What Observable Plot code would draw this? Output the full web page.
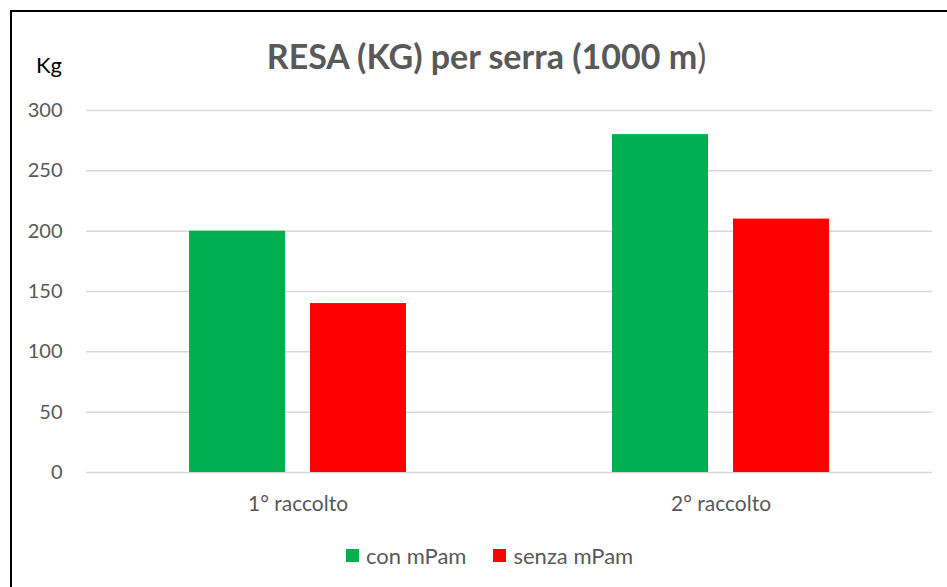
<!DOCTYPE html>
<html>
<head>
<meta charset="utf-8">
<script src="https://cdn.jsdelivr.net/npm/d3@7"></script>
<script src="https://cdn.jsdelivr.net/npm/@observablehq/plot@0.6"></script>
<style>
  html, body { margin: 0; padding: 0; background: #fff; }
  #wrap { position: relative; width: 947px; height: 587px; overflow: hidden; font-family: Lato, "Open Sans", sans-serif; }
  #frame { position: absolute; left: 10px; top: 10px; width: 1000px; height: 700px; border: 2px solid #000; box-sizing: border-box; }
  #chart { position: absolute; left: 0; top: 0; }
  #title { position: absolute; left: 13px; width: 947px; top: 35px; text-align: center; font-size: 34px; font-weight: bold; color: #595959; white-space: nowrap; }
  #title span { font-weight: normal; }
  #unit { position: absolute; left: 36px; top: 51px; font-size: 22px; color: #000; }
  #legend { position: absolute; top: 542px; left: 346px; display: flex; gap: 27px; font-size: 22px; color: #595959; }
  .item { display: flex; align-items: center; gap: 7px; }
  .sw { width: 13px; height: 13px; display: inline-block; }
</style>
</head>
<body>
<div id="wrap">
  <div id="frame"></div>
  <div id="chart"></div>
  <div id="title">RESA (KG) per serra (1000 m<span>)</span></div>
  <div id="unit">Kg</div>
  <div id="legend"></div>
</div>
<script>
const categories = ["1° raccolto", "2° raccolto"];
const series = ["con mPam", "senza mPam"];
const conValues = [200, 280];
const senzaValues = [140, 210];
const colors = ["#00B050", "#FF0000"];
const yTicks = [0, 50, 100, 150, 200, 250, 300];

const data = [];
categories.forEach((c, i) => {
  data.push({cat: c, series: series[0], value: conValues[i]});
  data.push({cat: c, series: series[1], value: senzaValues[i]});
});

const chart = Plot.plot({
  width: 947,
  height: 587,
  marginTop: 110,
  marginBottom: 115,
  marginLeft: 86,
  marginRight: 15,
  style: {color: "#595959", fontFamily: "Lato, 'Open Sans', sans-serif", background: "transparent"},
  fx: {domain: categories, padding: 0, label: null},
  x: {domain: series, paddingInner: 0.2066, paddingOuter: 0.851, axis: null},
  y: {domain: [0, 300], label: null},
  color: {domain: series, range: colors},
  marks: [
    Plot.ruleY(yTicks, {stroke: "#d9d9d9", strokeWidth: 1.5}),
    Plot.barY(data, {fx: "cat", x: "series", y: "value", fill: "series"}),
    Plot.axisY({ticks: yTicks, tickSize: 0, tickPadding: 24, fontSize: 20, label: null}),
    Plot.axisFx({anchor: "bottom", tickSize: 0, tickPadding: 24, fontSize: 21, label: null})
  ]
});
document.getElementById("chart").appendChild(chart);

const legend = document.getElementById("legend");
series.forEach((s, i) => {
  const it = document.createElement("div");
  it.className = "item";
  const sw = document.createElement("span");
  sw.className = "sw";
  sw.style.background = colors[i];
  const t = document.createElement("span");
  t.textContent = s;
  it.appendChild(sw);
  it.appendChild(t);
  legend.appendChild(it);
});
</script>
</body>
</html>
